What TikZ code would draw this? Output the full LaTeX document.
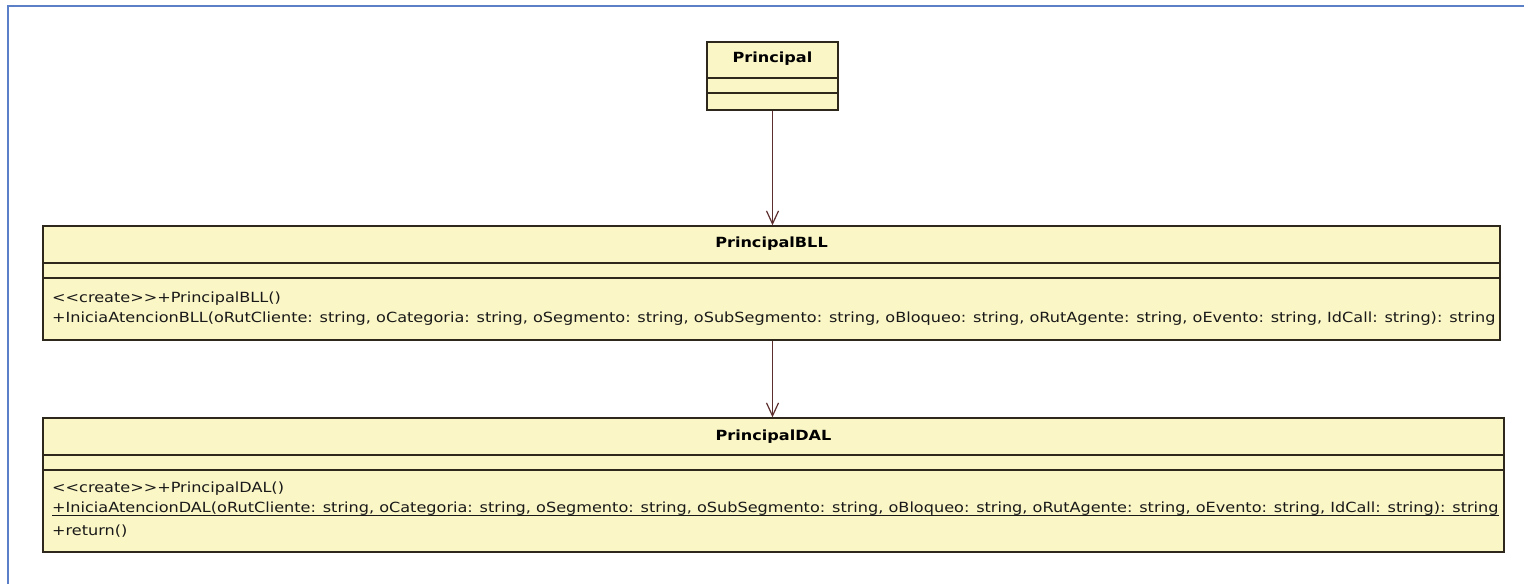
\documentclass[tikz,border=0pt]{standalone}
\usepackage{fontspec}
\setmainfont{DejaVu Sans}[FakeStretch=1.15]
\usetikzlibrary{arrows.meta}
\definecolor{classfill}{HTML}{FBF6C6}
\definecolor{classline}{HTML}{2E271C}
\definecolor{assoc}{HTML}{5C2E2E}
\definecolor{frameblue}{HTML}{5B80C8}
\begin{document}
\begin{tikzpicture}[x=1pt,y=-1pt,
  classbox/.style={draw=classline, fill=classfill, line width=1.4pt, inner sep=0pt},
  classname/.style={font=\fontsize{14}{16}\selectfont\bfseries, inner sep=0pt, text=black},
  member/.style={font=\fontsize{14}{16}\selectfont, inner sep=0pt, anchor=base west, text=black!90},
  divider/.style={draw=classline, line width=1.4pt},
  assocline/.style={draw=assoc, line width=1.2pt, -{Straight Barb[length=13pt,width=12pt]}},
]
\useasboundingbox (0,0) rectangle (1524,584);
\fill[white] (0,0) rectangle (1524,584);
% page frame
\draw[frameblue, line width=2.5pt] (8,584) -- (8,6) -- (1524,6);

% class boxes
\node[classbox, minimum width=131pt, minimum height=68pt] (principal) at (772.5,76) {};
\node[classbox, minimum width=1457pt, minimum height=114pt] (bll) at (771.5,283) {};
\node[classbox, minimum width=1461pt, minimum height=134pt] (dal) at (773.5,485) {};

% compartment dividers
\draw[divider] (principal.west |- 0,78) -- (principal.east |- 0,78);
\draw[divider] (principal.west |- 0,93) -- (principal.east |- 0,93);
\draw[divider] (bll.west |- 0,263) -- (bll.east |- 0,263);
\draw[divider] (bll.west |- 0,278) -- (bll.east |- 0,278);
\draw[divider] (dal.west |- 0,455) -- (dal.east |- 0,455);
\draw[divider] (dal.west |- 0,470) -- (dal.east |- 0,470);

% class names
\node[classname] (principalname) at (772.5,59) {Principal};
\node[classname] (bllname) at (771.5,244) {PrincipalBLL};
\node[classname] (dalname) at (773.5,437) {PrincipalDAL};

% operations
\node[member] (bllcreate) at (52,302) {<{}<create>{}>+PrincipalBLL()};
\node[member] (bllinicia) at (52,322) {+IniciaAtencionBLL(oRutCliente: string, oCategoria: string, oSegmento: string, oSubSegmento: string, oBloqueo: string, oRutAgente: string, oEvento: string, IdCall: string): string};
\node[member] (dalcreate) at (52,492) {<{}<create>{}>+PrincipalDAL()};
\node[member] (dalinicia) at (52,512) {+IniciaAtencionDAL(oRutCliente: string, oCategoria: string, oSegmento: string, oSubSegmento: string, oBloqueo: string, oRutAgente: string, oEvento: string, IdCall: string): string};
\node[member] (dalreturn) at (52,535) {+return()};
% static operation is underlined
\draw[black!90, line width=1pt] ([yshift=-3.5pt]dalinicia.base west) -- ([yshift=-3.5pt]dalinicia.base east);

% associations
\draw[assocline] (principal.south) -- (principal.south |- bll.north);
\draw[assocline] (bll.south -| principal.south) -- (principal.south |- dal.north);
\end{tikzpicture}
\end{document}
